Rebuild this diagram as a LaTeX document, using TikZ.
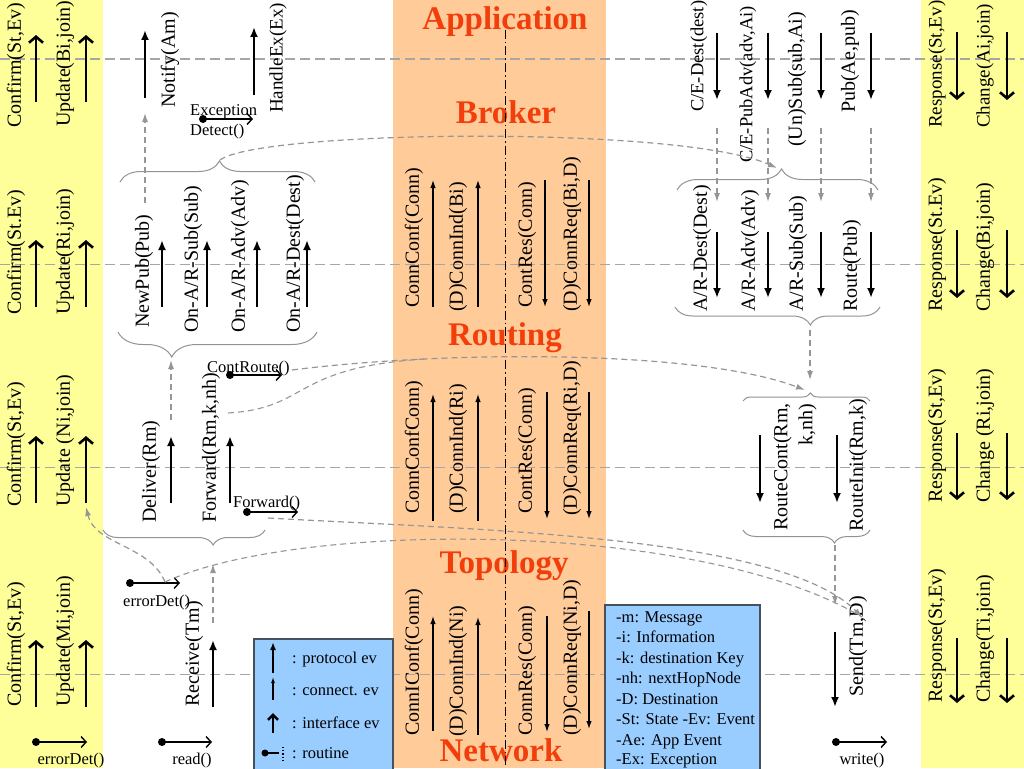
\documentclass[tikz,border=0pt]{standalone}
\usepackage{fontspec}
\setmainfont{Liberation Serif}
\usetikzlibrary{arrows.meta,decorations.pathreplacing}
\definecolor{yel}{RGB}{255,255,153}
\definecolor{peach}{RGB}{255,204,153}
\definecolor{lblue}{RGB}{153,204,255}
\definecolor{ttl}{RGB}{242,62,12}
\definecolor{dgray}{RGB}{150,150,150}
\definecolor{boxedge}{RGB}{70,80,95}
\begin{document}
\begin{tikzpicture}[x=1pt,y=-1pt,
 lbl/.style={rotate=90,anchor=west,inner sep=0pt,font=\fontsize{20}{25}\selectfont},
 lbls/.style={lbl,font=\fontsize{19}{24}\selectfont},
 lblxs/.style={lbl,font=\fontsize{18.5}{23}\selectfont},
 sm/.style={inner sep=0pt,anchor=base west,font=\fontsize{16.5}{20}\selectfont},
 ttlnode/.style={inner sep=0pt,anchor=base,text=ttl,font=\fontsize{33}{36}\selectfont\bfseries},
 proto/.style={line width=2.4pt,-{Latex[length=10pt,width=8pt]}},
 iface/.style={line width=2.6pt,-{Straight Barb[length=6pt,width=14pt]}},
 conn/.style={line width=1.2pt,-{Latex[length=8pt,width=5.5pt]}},
 rout/.style={line width=1.4pt,-{Straight Barb[length=5pt,width=11pt]}},
 gdash/.style={draw=dgray,line width=1.2pt,dash pattern=on 6pt off 4pt,-{Latex[length=9pt,width=6pt]}},
 gcurve/.style={draw=dgray,line width=1.1pt,dash pattern=on 6pt off 4pt},
 hline/.style={draw=dgray!85,line width=1pt,dash pattern=on 10pt off 5pt},
 brc/.style={draw=gray!85,line width=1pt,decorate},
 legbox/.style={fill=lblue,draw=boxedge,line width=1.3pt},
 dot/.style={circle,fill=black,inner sep=0pt,minimum size=8pt}
]
\useasboundingbox (0,0) rectangle (1024,768);
% backgrounds
\fill[yel] (0,0) rectangle (103,768);
\fill[white] (103,0) rectangle (393,768);
\fill[peach] (393,0) rectangle (606,768);
\fill[white] (606,0) rectangle (921,768);
\fill[yel] (921,0) rectangle (1024,768);
% horizontal layer lines
\foreach \yy in {59,264,467,674} \draw[hline] (0,\yy) -- (1024,\yy);
% legend boxes
\draw[legbox] (254,639) rectangle (393,770);
\draw[legbox] (605,605) rectangle (760,770);
% titles
\node[ttlnode] (tapp) at (505,30) {Application};
\node[ttlnode] (tbro) at (506,123) {Broker};
\node[ttlnode] (trou) at (505,345) {Routing};
\node[ttlnode] (ttop) at (504,573) {Topology};
\node[ttlnode] (tnet) at (501,761) {Network};
\coordinate (dtop) at (505,30);
\coordinate (dbot) at (505,768);
\draw[line width=0.8pt,dash pattern=on 9pt off 3pt on 1.5pt off 3pt] (dtop) -- (dbot);
% braces
\draw[brc,decoration={brace,amplitude=21pt,aspect=0.51}] (120,182) -- (315,182);
\draw[brc,decoration={brace,amplitude=25pt,aspect=0.73}] (317,332) -- (118,332);
\draw[brc,decoration={brace,amplitude=15pt,aspect=0.32}] (265,530) -- (103,530);
\draw[brc,decoration={brace,amplitude=21pt,aspect=0.52}] (677,190) -- (878,190);
\draw[brc,decoration={brace,amplitude=18pt,aspect=0.34}] (880,307) -- (675,307);
\draw[brc,decoration={brace,amplitude=8pt,aspect=0.53}] (743,401) -- (870,401);
\draw[brc,decoration={brace,amplitude=13pt,aspect=0.28}] (870,530) -- (743,530);
\coordinate (b1) at (220,160);
\coordinate (b2) at (171,360);
\coordinate (b3) at (213,564);
\coordinate (b4) at (777,168);
\coordinate (b5) at (810,330);
\coordinate (b6) at (805,390);
\coordinate (b6v) at (810,380);
\coordinate (b7) at (835,545);
% left yellow column
\node[lbl] (cf1) at (16,128) {Confirm(St,Ev)};
\node[lbl] (up1) at (65,127) {Update(Bi,join)};
\node[lbl] (cf2) at (16,315) {Confirm(St.Ev)};
\node[lbl] (up2) at (65,315) {Update(Ri,join)};
\node[lbl] (cf3) at (16,507) {Confirm(St,Ev)};
\node[lbl] (up3) at (65,507) {Update (Ni,join)};
\node[lbl] (cf4) at (16,707) {Confirm(St,Ev)};
\node[lbl] (up4) at (65,707) {Update(Mi,join)};
\foreach \xx in {36,86}{
 \draw[iface] (\xx,102) -- (\xx,35);
 \draw[iface] (\xx,307) -- (\xx,240);
 \draw[iface] (\xx,503) -- (\xx,436);
 \draw[iface] (\xx,707) -- (\xx,640);}
% right yellow column
\node[lbls] (rs1) at (937,128) {Response(St,Ev)};
\node[lbls] (ch1) at (985,128) {Change(Ai,join)};
\node[lbl] (rs2) at (937,312) {Response(St.Ev)};
\node[lbl] (ch2) at (985,312) {Change(Bi,join)};
\node[lbl] (rs3) at (937,503) {Response(St,Ev)};
\node[lbl] (ch3) at (985,503) {Change (Ri,join)};
\node[lbl] (rs4) at (937,703) {Response(St,Ev)};
\node[lbl] (ch4) at (985,703) {Change(Ti,join)};
\foreach \xx in {957,1007}{
 \draw[iface] (\xx,32) -- (\xx,100);
 \draw[iface] (\xx,230) -- (\xx,298);
 \draw[iface] (\xx,433) -- (\xx,500);
 \draw[iface] (\xx,638) -- (\xx,703);}
% left white area
\node[lbl] (notify) at (170,108) {Notify(Am)};
\node[lbls] (handle) at (278,113) {HandleEx(Ex)};
\draw[proto] (145,98) -- (145,30);
\draw[proto] (254,95) -- (254,27);
\node[sm] (exc) at (190,115) {Exception};
\node[sm] (det) at (190,135) {Detect()};
\node[dot] (d1) at (203,119) {};
\coordinate (e1) at (253,119);
\draw[rout] (d1.center) -- (e1);
\node[lbl] (newpub) at (144,328) {NewPub(Pub)};
\node[lbl] (onsub) at (193,333) {On-A/R-Sub(Sub)};
\node[lbl] (onadv) at (240,333) {On-A/R-Adv(Adv)};
\node[lbl] (ondest) at (295,333) {On-A/R-Dest(Dest)};
\foreach \xx in {162,207,257,307} \draw[proto] (\xx,307) -- (\xx,240);
\coordinate (np) at (145,203);
\coordinate (nt) at (145,113);
\draw[gdash] (np) -- (nt);
\node[sm] (contr) at (207,372) {ContRoute()};
\node[dot] (d2) at (230,375) {};
\coordinate (e2) at (282,375);
\draw[rout] (d2.center) -- (e2);
\node[lbl] (deliver) at (151,523) {Deliver(Rm)};
\node[lbl] (fwd) at (211,523) {Forward(Rm,k,nh)};
\draw[proto] (171,503) -- (171,436);
\draw[proto] (230,503) -- (230,436);
\coordinate (dl) at (171,420);
\draw[gdash] (dl) -- (b2);
\node[sm] (fwdr) at (233,507) {Forward()};
\node[dot] (d3) at (247,512) {};
\coordinate (e3) at (298,512);
\draw[rout] (d3.center) -- (e3);
\node[sm] (errd) at (123,606) {errorDet()};
\node[dot] (d4) at (130,583) {};
\coordinate (e4) at (180,583);
\draw[rout] (d4.center) -- (e4);
\node[lbl] (recv) at (194,707) {Receive(Tm)};
\draw[proto] (213,707) -- (213,640);
\coordinate (rv) at (213,623);
\draw[gdash] (rv) -- (b3);
% bottom routines
\node[dot] (d5) at (36,742) {};
\coordinate (e5) at (87,742);
\draw[rout] (d5.center) -- (e5);
\node[sm,anchor=base] (errd2) at (71,764) {errorDet()};
\node[dot] (d6) at (162,742) {};
\coordinate (e6) at (212,742);
\draw[rout] (d6.center) -- (e6);
\node[sm,anchor=base] (read) at (192,764) {read()};
\node[dot] (d7) at (836,742) {};
\coordinate (e7) at (887,742);
\draw[rout] (d7.center) -- (e7);
\node[sm,anchor=base] (write) at (862,764) {write()};
% orange: connection primitives
\node[lbl] (c11) at (414,308) {ConnConf(Conn)};
\node[lbl] (c12) at (458,312) {(D)ConnInd(Bi)};
\node[lbl] (c13) at (527,308) {ContRes(Conn)};
\node[lbl] (c14) at (572,312) {(D)ConnReq(Bi,D)};
\draw[conn] (433,307) -- (433,180);
\draw[conn] (478,307) -- (478,180);
\draw[conn] (545,180) -- (545,307);
\draw[conn] (589,180) -- (589,307);
\node[lbl] (c21) at (414,514) {ConnConfConn)};
\node[lbl] (c22) at (458,514) {(D)ConnInd(Ri)};
\node[lbl] (c23) at (527,514) {ContRes(Conn)};
\node[lbl] (c24) at (572,516) {(D)ConnReq(Ri,D)};
\draw[conn] (433,521) -- (433,394);
\draw[conn] (478,521) -- (478,394);
\draw[conn] (547,392) -- (547,519);
\draw[conn] (589,392) -- (589,519);
\node[lbl] (c31) at (414,736) {ConnIConf(Conn)};
\node[lbl] (c32) at (458,737) {(D)ConnInd(Ni)};
\node[lbl] (c33) at (527,736) {ConnRes(Conn)};
\node[lbl] (c34) at (572,736) {(D)ConnReq(Ni,D)};
\draw[conn] (433,731) -- (433,616);
\draw[conn] (478,735) -- (478,617);
\draw[conn] (547,616) -- (547,732);
\draw[conn] (589,611) -- (589,729);
% right white area
\node[lblxs] (ced) at (699,112) {C/E-Dest(dest)};
\node[lblxs] (cep) at (748,163) {C/E-PubAdv(adv,Ai)};
\node[lbl] (uns) at (797,147) {(Un)Sub(sub,Ai)};
\node[lbl] (pub) at (850,113) {Pub(Ae,pub)};
\foreach \xx in {717,768,821,871}{
 \draw[proto] (\xx,33) -- (\xx,100);
 \draw[gdash] (\xx,128) -- (\xx,202);
 \draw[proto] (\xx,232) -- (\xx,298);}
\node[lbl] (ard) at (702,312) {A/R-Dest(Dest)};
\node[lbl] (ara) at (750,312) {A/R-Adv(Adv)};
\node[lbl] (ars) at (798,312) {A/R-Sub(Sub)};
\node[lbl] (rtp) at (852,312) {Route(Pub)};
\draw[gdash] (b5) -- (b6v);
\node[lbl,anchor=center,align=right] (rcont) at (795,467) {RouteCont(Rm,\\k,nh)};
\node[lbl] (rinit) at (858,532) {RouteInit(Rm,k)};
\draw[proto] (760,435) -- (760,503);
\draw[proto] (837,435) -- (837,503);
\coordinate (sd) at (835,605);
\draw[gdash] (b7) -- (sd);
\node[lbl] (send) at (858,697) {Send(Tm,D)};
\draw[proto] (835,632) -- (835,707);
% dashed curved connectors
\draw[gdash] (b1) .. controls (260,130) and (680,125) .. (b4);
\coordinate (cr) at (292,370);
\draw[gdash] (cr) .. controls (450,350) and (700,350) .. (b6);
\coordinate (fw) at (228,413);
\coordinate (mj) at (424,359);
\draw[gcurve] (fw) .. controls (310,408) and (290,368) .. (mj);
\coordinate (fr) at (268,518);
\coordinate (st) at (862,617);
\draw[gdash] (fr) .. controls (480,530) and (780,535) .. (st);
\coordinate (ed) at (165,582);
\draw[gcurve] (ed) .. controls (300,520) and (700,520) .. (st);
\coordinate (un) at (86,507);
\draw[gdash] (ed) .. controls (150,545) and (95,545) .. (un);
% legend 1
\draw[line width=1.8pt,-{Latex[length=8pt,width=6pt]}] (273,673) -- (273,642);
\draw[line width=1.1pt,-{Latex[length=6pt,width=4pt]}] (273,700) -- (273,677);
\draw[line width=2.6pt,-{Straight Barb[length=5pt,width=10pt]}] (273,733) -- (273,713);
\node[dot,minimum size=7pt] (ld) at (265,753) {};
\coordinate (le) at (279,753);
\draw[line width=1.4pt] (ld.center) -- (le);
\draw[line width=1.2pt,dotted] (283,747) -- (283,760);
\node[sm] (l1) at (292,663) {: protocol ev};
\node[sm] (l2) at (292,695) {: connect. ev};
\node[sm] (l3) at (292,728) {: interface ev};
\node[sm] (l4) at (292,758) {: routine};
% legend 2
\node[sm] (m1) at (616,622) {-m: Message};
\node[sm] (m2) at (616,642.5) {-i: Information};
\node[sm] (m3) at (616,663) {-k: destination Key};
\node[sm] (m4) at (616,683.5) {-nh: nextHopNode};
\node[sm] (m5) at (616,704) {-D: Destination};
\node[sm] (m6) at (616,724.5) {-St: State -Ev: Event};
\node[sm] (m7) at (616,745) {-Ae: App Event};
\node[sm] (m8) at (616,764.5) {-Ex: Exception};
\end{tikzpicture}
\end{document}
